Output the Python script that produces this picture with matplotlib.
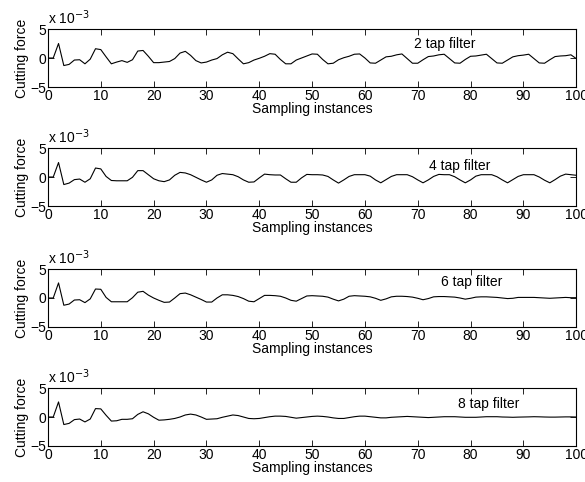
import numpy as np
import matplotlib
matplotlib.use("Agg")
import matplotlib.pyplot as plt

plt.rcParams['font.family'] = ['Liberation Sans', 'DejaVu Sans']

t = list(range(101))

tap2 = [0, 0, 2.5, -1.3, -1.1, -0.35, -0.3, -1.0, -0.2, 1.6,
        1.45, 0.2, -1.0, -0.7, -0.45, -0.75, -0.3, 1.2, 1.3, 0.3,
        -0.8, -0.8, -0.7, -0.6, -0.1, 0.85, 1.15, 0.45, -0.45, -0.85,
        -0.7, -0.35, -0.1, 0.55, 1.0, 0.75, -0.15, -1.0, -0.8, -0.35,
        -0.05, 0.3, 0.75, 0.65, -0.25, -1.0, -1.0, -0.35, 0.0, 0.35,
        0.7, 0.65, -0.25, -1.0, -0.9, -0.3, 0.05, 0.3, 0.65, 0.7,
        0.0, -0.85, -0.9, -0.35, 0.2, 0.3, 0.55, 0.7, -0.1, -0.9,
        -0.9, -0.3, 0.25, 0.35, 0.55, 0.65, -0.1, -0.85, -0.9, -0.25,
        0.3, 0.35, 0.5, 0.65, -0.1, -0.85, -0.9, -0.35, 0.2, 0.4,
        0.5, 0.65, -0.1, -0.85, -0.9, -0.3, 0.25, 0.35, 0.4, 0.55,
        -0.1]

tap4 = [0, 0, 2.5, -1.3, -1.05, -0.45, -0.35, -0.9, -0.3, 1.55,
        1.4, 0.1, -0.6, -0.65, -0.65, -0.65, -0.05, 1.1, 1.1, 0.4,
        -0.3, -0.65, -0.8, -0.5, 0.3, 0.8, 0.7, 0.4, -0.05, -0.5,
        -0.9, -0.5, 0.3, 0.6, 0.5, 0.4, 0.05, -0.5, -0.9, -0.85,
        -0.15, 0.5, 0.4, 0.35, 0.35, -0.3, -0.9, -0.9, -0.15, 0.45,
        0.4, 0.4, 0.35, 0.1, -0.5, -1.05, -0.5, 0.1, 0.4, 0.4,
        0.4, 0.15, -0.5, -1.0, -0.45, 0.1, 0.4, 0.4, 0.4, 0.05,
        -0.5, -1.0, -0.5, 0.1, 0.45, 0.4, 0.4, 0.05, -0.5, -1.0,
        -0.5, 0.15, 0.4, 0.4, 0.4, 0.05, -0.5, -1.0, -0.45, 0.1,
        0.4, 0.4, 0.4, 0.0, -0.55, -1.0, -0.45, 0.15, 0.5, 0.4,
        0.3]

tap6 = [0, 0, 2.6, -1.25, -1.05, -0.35, -0.3, -0.8, -0.15, 1.55,
        1.5, 0.1, -0.65, -0.65, -0.65, -0.65, 0.05, 1.0, 1.15, 0.5,
        0.0, -0.4, -0.75, -0.7, 0.0, 0.75, 0.85, 0.55, 0.15, -0.25,
        -0.7, -0.7, 0.0, 0.55, 0.55, 0.45, 0.25, -0.1, -0.55, -0.65,
        -0.1, 0.45, 0.45, 0.4, 0.3, 0.0, -0.4, -0.55, -0.1, 0.35,
        0.4, 0.35, 0.3, 0.15, -0.2, -0.5, -0.2, 0.3, 0.4, 0.35,
        0.3, 0.2, -0.05, -0.4, -0.15, 0.2, 0.3, 0.3, 0.25, 0.15,
        -0.05, -0.3, -0.1, 0.2, 0.25, 0.25, 0.2, 0.15, 0.0, -0.2,
        -0.05, 0.15, 0.2, 0.2, 0.15, 0.1, 0.0, -0.1, -0.05, 0.1,
        0.1, 0.1, 0.1, 0.05, 0.0, -0.05, 0.0, 0.05, 0.1, 0.05,
        0.05]

tap8 = [0, 0, 2.6, -1.3, -1.1, -0.45, -0.35, -0.85, -0.35, 1.45,
        1.4, 0.3, -0.7, -0.65, -0.4, -0.4, -0.3, 0.45, 0.9, 0.55,
        -0.05, -0.55, -0.5, -0.4, -0.25, 0.0, 0.35, 0.5, 0.35, 0.0,
        -0.4, -0.35, -0.3, -0.05, 0.15, 0.35, 0.25, 0.0, -0.25, -0.3,
        -0.25, -0.1, 0.05, 0.15, 0.15, 0.1, -0.05, -0.2, -0.1, 0.0,
        0.1, 0.15, 0.1, 0.0, -0.15, -0.25, -0.25, -0.1, 0.05, 0.15,
        0.15, 0.05, -0.05, -0.15, -0.15, -0.05, 0.0, 0.05, 0.1, 0.05,
        0.0, -0.05, -0.1, -0.05, 0.0, 0.05, 0.05, 0.05, 0.0, -0.05,
        -0.05, -0.05, 0.0, 0.05, 0.05, 0.05, 0.0, -0.02, -0.05, -0.02,
        0.0, 0.02, 0.05, 0.03, 0.0, -0.02, -0.02, 0.0, 0.02, 0.02,
        0.0]

series = [tap2, tap4, tap6, tap8]
labels = ["2 tap filter", "4 tap filter", "6 tap filter", "8 tap filter"]
label_pos = [(75.2, 2.4), (78.0, 1.95), (80.3, 2.8), (83.4, 2.3)]

xticks = [0, 10, 20, 30, 40, 50, 60, 70, 80, 90, 100]
yticks = [-5, 0, 5]
ytick_labels = ["\u22125", "0", "5"]

fig = plt.figure(figsize=(5.85, 4.82), dpi=100)
bottoms = [0.8195, 0.5726, 0.3216, 0.0747]
fs = 10
for i, (vals, lab, pos, b) in enumerate(zip(series, labels, label_pos, bottoms)):
    ax = fig.add_axes([0.082, b, 0.903, 0.1203])
    ax.plot(t, vals, color='black', lw=0.8)
    ax.set_xlim(0, 100)
    ax.set_ylim(-5, 5)
    ax.set_xticks(xticks)
    ax.set_xticklabels([str(v) for v in xticks], fontsize=fs)
    ax.set_yticks(yticks)
    ax.set_yticklabels(ytick_labels, fontsize=fs)
    ax.tick_params(direction='in', top=True, right=True, length=4, width=0.6, pad=1.5)
    for s in ax.spines.values():
        s.set_linewidth(0.8)
    ax.set_xlabel("Sampling instances", fontsize=fs, labelpad=-1)
    ax.set_ylabel("Cutting force", fontsize=fs, labelpad=1)
    ax.text(pos[0], pos[1], lab, ha='center', va='center', fontsize=fs)
    ax.text(0.0, 1.03, "x 10$^{-3}$", transform=ax.transAxes, ha='left', va='bottom', fontsize=fs)

fig.savefig("out.png", dpi=100)
